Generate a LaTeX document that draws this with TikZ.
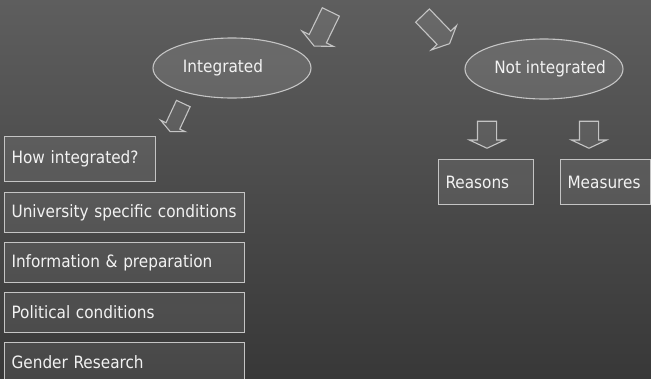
\documentclass[tikz,border=0pt]{standalone}
\usepackage{fontspec}
\setmainfont{DejaVu Sans Condensed}
\usetikzlibrary{shapes.geometric,shapes.arrows}

\definecolor{bgtop}{HTML}{5E5E5E}
\definecolor{bgbottom}{HTML}{383838}
\definecolor{rim}{HTML}{C4C4C4}
\definecolor{label}{HTML}{F2F2F2}

\tikzset{
	itembox/.style={draw=rim, line width=1.1pt, fill=white, fill opacity=0.08, text opacity=1,
		text=label, anchor=north west, inner xsep=7pt, inner ysep=0pt, align=left,
		font=\fontsize{17}{19}\selectfont},
	topic/.style={ellipse, draw=rim, line width=1.1pt, fill=white, fill opacity=0.1, text opacity=1,
		text=label, inner sep=0pt, minimum width=158pt, minimum height=60pt,
		font=\fontsize{17}{19}\selectfont},
	blockarrow/.style={single arrow, draw=rim, line width=1.1pt, fill=white, fill opacity=0.08,
		inner xsep=0pt, inner ysep=9pt, single arrow head extend=8pt, single arrow tip angle=130,
		minimum height=#1},
}

\begin{document}
\begin{tikzpicture}[x=1pt, y=-1pt]
	\useasboundingbox (0,0) rectangle (651,378);
	\shade [top color=bgtop, bottom color=bgbottom] (0,0) rectangle (651,378);

	\node [topic] at (232, 68) (integ) {\hspace*{-18pt}Integrated};
	\node [topic] at (544, 69) (notinteg) {Not integrated\hspace*{-12pt}};

	\node [itembox, text width=137pt, minimum height=45pt] at (4, 136) (how) {How integrated?};
	\node [itembox, text width=226pt, minimum height=40pt] at (4, 192) (univ) {University specific conditions};
	\node [itembox, text width=226pt, minimum height=40pt] at (4, 242) (info) {Information \& preparation};
	\node [itembox, text width=226pt, minimum height=40pt] at (4, 292) (poli) {Political conditions};
	\node [itembox, text width=226pt, minimum height=40pt] at (4, 342) (gender) {Gender Research};

	\node [itembox, text width=81pt, minimum height=45pt] at (438, 159) (reasons) {Reasons};
	\node [itembox, text width=76pt, minimum height=45pt] at (560, 159) (measures) {Measures};

	\node [blockarrow=38pt, rotate=-116] at (323.5, 27) (arrinteg) {};
	\node [blockarrow=39pt, rotate=-46] at (434.5, 28) (arrnot) {};
	\node [blockarrow=31pt, rotate=-115, inner ysep=7pt, single arrow head extend=6pt] at (177.5, 116) (arrhow) {};
	\node [blockarrow=27pt, rotate=-90] at (487, 132.5) (arrreasons) {};
	\node [blockarrow=27pt, rotate=-90] at (589, 132.5) (arrmeasures) {};
\end{tikzpicture}
\end{document}
